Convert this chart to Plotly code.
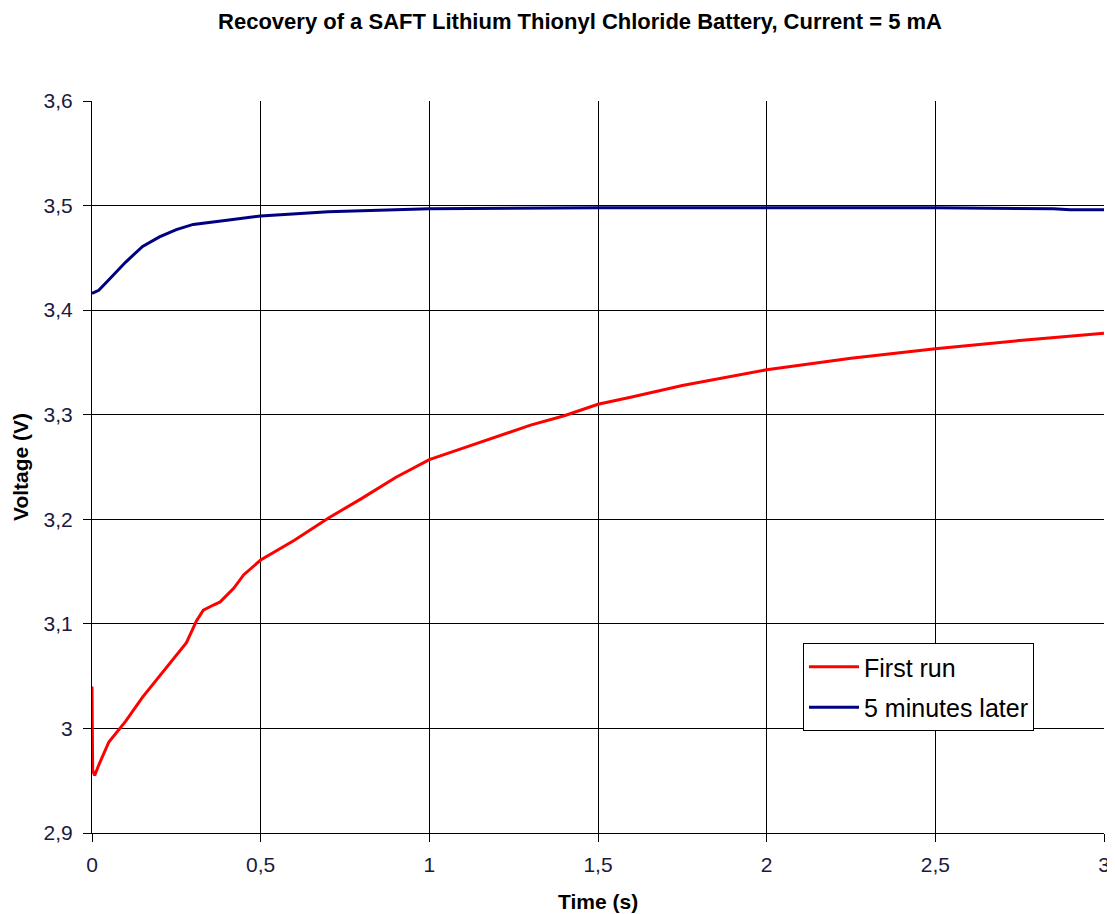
import plotly.graph_objects as go

# First run (red)
t_first = [0, 0.002, 0.008, 0.02, 0.05, 0.1, 0.15, 0.2, 0.25, 0.28, 0.31, 0.33, 0.36, 0.38,
           0.42, 0.45, 0.5, 0.6, 0.7, 0.8, 0.9, 1.0, 1.1, 1.2, 1.3, 1.4, 1.5, 1.6, 1.75,
           2.0, 2.25, 2.5, 2.75, 3.0]
v_first = [3.04, 2.96, 2.955, 2.965, 2.987, 3.007, 3.03, 3.05, 3.07, 3.082, 3.103, 3.113, 3.118, 3.121,
           3.134, 3.147, 3.161, 3.18, 3.201, 3.22, 3.24, 3.257, 3.268, 3.279, 3.29, 3.299, 3.31, 3.317, 3.328,
           3.343, 3.354, 3.363, 3.371, 3.378]

# 5 minutes later (blue)
t_later = [0, 0.02, 0.05, 0.1, 0.15, 0.2, 0.25, 0.3, 0.4, 0.5, 0.7, 1.0, 1.5, 2.0, 2.5, 2.85, 2.9, 3.0]
v_later = [3.416, 3.419, 3.429, 3.446, 3.461, 3.470, 3.477, 3.482, 3.486, 3.490, 3.494, 3.497,
           3.498, 3.498, 3.498, 3.497, 3.496, 3.496]

title_text = "Recovery of a SAFT Lithium Thionyl Chloride Battery, Current = 5 mA"
x_title = "Time (s)"
y_title = "Voltage (V)"

FONT = "Liberation Sans, Arial, sans-serif"
W, H = 1107, 906          # page body adds an 8px margin
L, R, T, B = 84, 11, 93, 81
PW, PH = W - L - R, H - T - B

fig = go.Figure()
fig.add_trace(go.Scatter(x=t_first, y=v_first, mode="lines", name="First run", legendgroup="a",
                         line=dict(color="#ff0000", width=3)))
fig.add_trace(go.Scatter(x=t_later, y=v_later, mode="lines", name="5 minutes later", legendgroup="b",
                         line=dict(color="#000080", width=3)))

tick_font = dict(family=FONT, size=21, color="#1a1a40")
fig.update_layout(
    width=W, height=H,
    paper_bgcolor="white", plot_bgcolor="white",
    separators=",.",
    margin=dict(l=L, r=R, t=T, b=B, autoexpand=False),
    title=dict(text="<b>" + title_text + "</b>", x=572 / W, xanchor="center", y=1 - 13 / H, yanchor="middle",
               font=dict(family=FONT, size=22, color="black")),
    showlegend=True,
    legend=dict(x=(803 - 92) / PW, y=(833 - 643) / PH, xanchor="left", yanchor="top",
                bgcolor="white", bordercolor="black", borderwidth=1,
                font=dict(family=FONT, size=25, color="black"),
                tracegroupgap=5, itemwidth=50),
    annotations=[
        dict(text="<b>" + x_title + "</b>", xref="paper", yref="paper", x=0.5, y=-(901 - 833) / PH,
             xanchor="center", yanchor="middle", showarrow=False,
             font=dict(family=FONT, size=21, color="black")),
        dict(text="<b>" + y_title + "</b>", xref="paper", yref="paper", x=-(92 - 20) / PW, y=0.5,
             xanchor="center", yanchor="middle", showarrow=False, textangle=-90,
             font=dict(family=FONT, size=21, color="black")),
    ],
)
fig.update_xaxes(range=[0, 3], dtick=0.5, tick0=0, showgrid=True, gridcolor="black", gridwidth=1,
                 showline=True, linecolor="black", linewidth=1, ticks="outside", ticklen=8,
                 tickcolor="black", tickfont=tick_font, zeroline=False, automargin=False,
                 ticklabelstandoff=5)
fig.update_yaxes(range=[2.9, 3.6], dtick=0.1, tick0=2.9, showgrid=True, gridcolor="black", gridwidth=1,
                 showline=True, linecolor="black", linewidth=1, ticks="outside", ticklen=8,
                 tickcolor="black", tickfont=tick_font, zeroline=False, automargin=False,
                 ticklabelstandoff=6)

fig.write_html("out.html")
